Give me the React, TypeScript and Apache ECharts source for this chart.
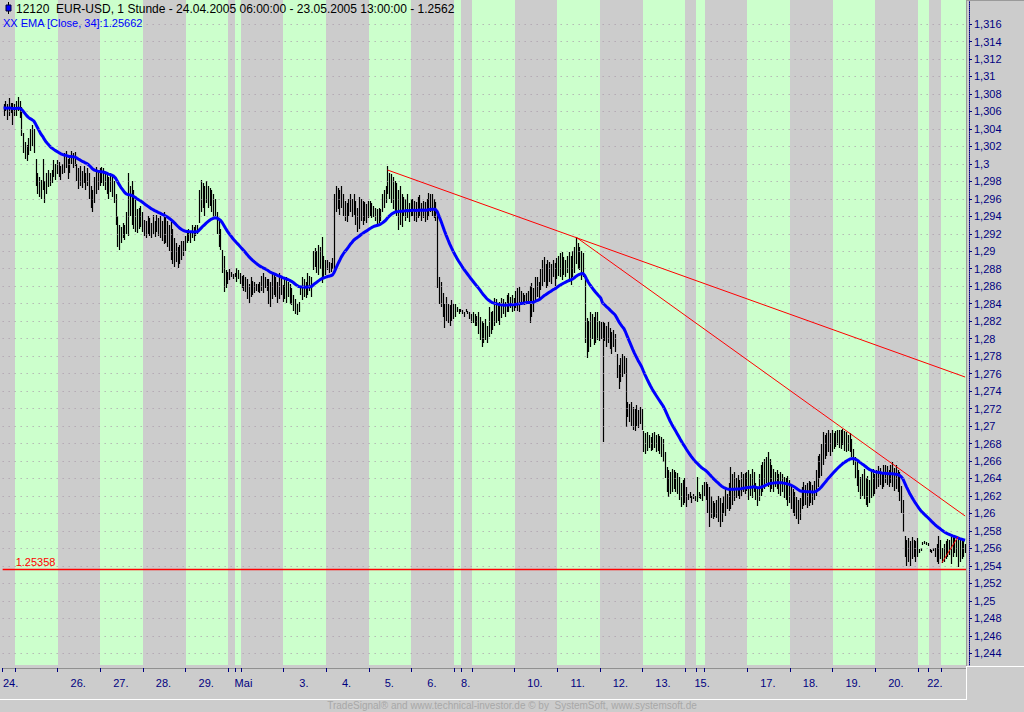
import React, { useEffect, useRef } from "react";
import * as echarts from "echarts";

// ---- data: hourly bars, [low, high] pairs in pips above 1.2400 ----
const D24 = [655,668, 660,672, 650,668, 655,675, 658,670, 645,670, 655,668];
const D25 = [655,672, 660,676, 652,672, 632,665, 612,635, 605,625, 603,622, 610,630, 615,640, 620,644, 612,640, 575,605, 565,590, 562,585, 560,582, 570,605, 555,580, 565,590, 573,593, 575,590, 578,593, 585,604, 581,600, 588,604];
const D26 = [585,602, 581,598, 588,600, 590,612, 595,615, 583,605, 590,610, 600,615, 595,612, 598,614, 580,600, 571,595, 575,598, 572,592, 578,598, 570,590, 575,595, 560,590, 550,575, 545,570, 555,585, 565,596, 570,592, 575,595];
const D27 = [578,596, 575,595, 570,590, 565,588, 560,585, 568,590, 562,585, 555,580, 530,565, 505,540, 502,530, 510,528, 515,532, 513,530, 520,545, 518,590, 540,575, 530,580, 525,570, 522,560, 521,548, 525,550, 528,552, 522,545];
const D28 = [518,536, 515,535, 520,540, 517,538, 515,532, 520,541, 516,535, 522,541, 518,538, 515,540, 512,535, 508,545, 510,540, 505,535, 500,530, 490,533, 485,525, 482,515, 488,510, 481,505, 485,507, 490,512, 495,512, 500,518];
const D29 = [510,522, 512,525, 510,523, 515,530, 512,528, 518,530, 520,530, 532,570, 545,582, 550,578, 540,575, 555,580, 549,575, 552,572, 545,570, 538,566, 540,560, 520,545, 505,535, 501,525, 475,501, 453,495, 458,479, 462,476];
const D30 = [467,480, 470,476, 468,474, 470,475];
const D01 = [465,481, 468,478, 462,475];
const D02 = [458,472, 455,473, 453,470, 445,468, 441,462, 448,470, 450,466, 452,465, 455,463, 453,462, 452,465, 455,472, 452,475, 458,470, 455,468, 440,468, 436,465, 445,476, 450,474, 448,470, 441,465, 445,475, 450,470, 442,461];
const D03 = [445,468, 441,470, 448,465, 440,462, 438,458, 432,450, 428,445, 427,440, 430,442, 450,460, 444,470, 448,468, 446,465, 450,475, 455,472, 448,470, 479,500, 482,504, 475,500, 473,507, 480,505, 464,516, 470,495, 473,490];
const D04 = [478,490, 475,488, 476,487, 480,492, 479,566, 545,575, 548,572, 541,570, 550,575, 540,565, 535,558, 533,555, 540,560, 545,566, 539,560, 542,565, 530,558, 522,550, 525,562, 535,560, 530,558, 535,556, 532,554, 538,558];
const D05 = [540,558, 538,555, 539,552, 535,550, 530,548, 532,550, 535,548, 545,565, 550,570, 555,575, 565,597, 560,590, 555,588, 548,585, 544,580, 540,578, 524,570, 530,575, 528,566, 540,562, 535,560, 538,566, 533,555, 540,560];
const D06 = [540,560, 535,558, 533,556, 538,562, 540,564, 535,555, 538,558, 533,556, 536,560, 540,567, 545,566, 540,565, 538,560, 535,556, 458,545, 440,471, 436,465, 425,452, 412,440, 420,448, 418,440, 414,438, 420,444, 422,440];
const D07 = [425,440, 430,436, 428,434, 430,434];
const D08 = [428,433, 425,430, 430,434, 428,432, 422,430, 418,428];
const D09 = [418,430, 414,428, 415,426, 405,430, 398,425, 391,420, 395,418, 398,422, 395,415, 402,436, 405,430, 410,432, 414,447, 418,445, 420,440, 416,442, 424,447, 428,445, 425,442, 430,450, 431,452, 435,448, 430,450, 432,446];
const D10 = [435,455, 432,458, 430,459, 438,455, 440,452, 439,450, 442,452, 440,455, 418,460, 425,464, 430,458, 444,470, 448,471, 445,465, 456,480, 460,490, 465,493, 458,485, 460,490, 465,488, 462,485, 470,490, 460,487, 468,492];
const D11 = [472,495, 470,498, 467,499, 473,493, 470,490, 475,495, 465,499, 461,495, 470,500, 475,505, 485,516, 480,510, 478,505, 467,500, 470,498, 395,470, 378,424, 385,420, 390,431, 400,428, 393,425, 395,430, 398,430, 397,420];
const D12 = [400,419, 282,419, 397,418, 390,415, 395,419, 388,412, 382,408, 390,410, 385,405, 355,382, 342,370, 350,378, 356,382, 360,380, 299,378, 310,328, 305,325, 300,328, 296,322, 294,320, 300,324, 298,318, 302,322, 296,320];
const D13 = [270,294, 268,292, 272,293, 275,290, 271,288, 273,292, 275,293, 270,290, 272,291, 268,289, 265,287, 259,285, 240,270, 225,253, 219,250, 222,248, 225,251, 228,250, 225,248, 222,246, 215,242, 207,235, 210,238, 212,240];
const D14 = [207,230, 215,222, 218,225, 212,220, 216,222, 214,220];
const D15 = [213,242, 218,225, 216,222, 214,232, 220,236];
const D16 = [215,236, 200,234, 185,230, 195,220, 194,214, 196,212, 195,215, 190,220, 185,218, 190,212, 200,220, 197,228, 205,222, 203,235, 205,253, 210,245, 214,248, 218,240, 220,244, 216,238, 220,248, 225,245, 222,246, 226,248];
const D17 = [215,250, 220,245, 218,251, 225,248, 215,235, 209,228, 214,245, 220,255, 225,259, 228,262, 235,265, 230,270, 225,262, 228,255, 225,251, 230,248, 228,250, 222,245, 220,247, 225,245, 218,242, 215,240, 209,243, 212,238];
const D18 = [205,231, 200,228, 197,225, 194,219, 188,215, 192,218, 205,230, 208,236, 210,232, 206,235, 209,237, 212,236, 210,232, 215,237, 220,250, 230,266, 240,268, 243,280, 255,293, 262,290, 266,292, 270,296, 266,292, 270,295];
const D19 = [274,292, 276,294, 278,296, 275,295, 274,296, 278,297, 272,294, 270,293, 272,290, 270,292, 265,285, 256,274, 240,265, 231,259, 225,250, 217,242, 220,245, 217,251, 210,240, 207,243, 212,238, 218,250, 220,251, 222,245];
const D20 = [228,250, 230,254, 232,252, 228,248, 230,255, 235,256, 232,254, 230,250, 235,255, 230,259, 226,252, 228,256, 225,250, 214,247, 200,231, 179,215, 150,174, 140,170, 145,172, 140,168, 148,173, 150,170, 145,168, 150,172];
const D21 = [155,159, 157,160, 164,167, 165,168, 164,167, 163,166];
const D22 = [156,159, 155,158, 157,160, 150,160, 145,165, 142,174, 148,170];
const D23 = [143,160, 145,165, 148,168, 150,171, 152,170, 142,173, 150,175, 155,173, 150,170, 139,173, 145,172, 148,171, 150,170, 155,165];

const DAY_BARS = [D24, D25, D26, D27, D28, D29, D30, D01, D02, D03, D04, D05, D06, D07, D08, D09, D10, D11, D12, D13, D14, D15, D16, D17, D18, D19, D20, D21, D22, D23];
const DAY_KEYS = ["24.04", "25.04", "26.04", "27.04", "28.04", "29.04", "30.04", "01.05", "02.05", "03.05", "04.05", "05.05", "06.05", "07.05", "08.05", "09.05", "10.05", "11.05", "12.05", "13.05", "14.05", "15.05", "16.05", "17.05", "18.05", "19.05", "20.05", "21.05", "22.05", "23.05"];
const DAY_LABELS = ["24.", "", "26.", "27.", "28.", "29.", "", "Mai", "", "3.", "4.", "5.", "6.", "", "8.", "", "10.", "11.", "12.", "13.", "", "15.", "", "17.", "18.", "19.", "20.", "", "22.", ""];
const TICK_VALUES = [1.244, 1.246, 1.248, 1.25, 1.252, 1.254, 1.256, 1.258, 1.26, 1.262, 1.264, 1.266, 1.268, 1.27, 1.272, 1.274, 1.276, 1.278, 1.28, 1.282, 1.284, 1.286, 1.288, 1.29, 1.292, 1.294, 1.296, 1.298, 1.3, 1.302, 1.304, 1.306, 1.308, 1.31, 1.312, 1.314, 1.316];
const EMA_START = 1.3064;
const EMA_PERIOD = 34;
// trend lines: [startBar, startValue, endBar, endValue]
const TREND_LINES = [
  [216, 1.2993, 541, 1.27561],
  [322, 1.29163, 541, 1.25971],
  [528, 1.25437, 537, 1.25733],
];
const SUPPORT_LEVEL = 1.25358;

// ---- layout / style ----
const LABEL_OFFSET: Record<string, number> = { "24.": 4, Mai: 4, "8.": 2, "15.": 3, "22.": 3 };
const GREY = "#cccccc";
const GREEN = "#ccffcc";
const NAVY = "#000080";
const FONT = '"Liberation Sans", Arial, sans-serif';

const BASE = 1.24;
const PIP = 0.0001;

function buildData() {
  const cats: string[] = [];
  const bars: number[][] = [];
  const bands: number[][] = [];
  const tickSet = new Set<number>();
  const labelMap = new Map<number, string>();
  DAY_BARS.forEach((arr, d) => {
    const start = cats.length;
    const n = arr.length / 2;
    tickSet.add(start);
    bands.push([start, n, d % 2]);
    const lab = DAY_LABELS[d];
    if (lab) {
      const off = LABEL_OFFSET[lab] !== undefined ? LABEL_OFFSET[lab] : Math.floor(n / 2) - 1;
      labelMap.set(start + off, lab);
    }
    for (let k = 0; k < n; k++) {
      const i = cats.length;
      cats.push(`${DAY_KEYS[d]} ${k}`);
      bars.push([i, BASE + arr[2 * k] * PIP, BASE + arr[2 * k + 1] * PIP]);
    }
  });
  const alpha = 2 / (EMA_PERIOD + 1);
  let e = EMA_START;
  const ema = bars.map((b) => {
    const close = (b[1] + b[2]) / 2;
    e = e + alpha * (close - e);
    return +e.toFixed(5);
  });
  return { cats, bars, bands, tickSet, labelMap, ema };
}

function fmtY(v: number) {
  let s = v.toFixed(3).replace(/0+$/, "").replace(/\.$/, "");
  return s.replace(".", ",");
}

export default function App() {
  const ref = useRef<HTMLDivElement>(null);
  useEffect(() => {
    if (!ref.current) return;
    const chart = echarts.init(ref.current, null, { renderer: "svg" });
    const { cats, bars, bands, tickSet, labelMap, ema } = buildData();

    const trendData: any[] = TREND_LINES.map((t) => [
      { coord: [cats[t[0]], t[1]] },
      { coord: [cats[t[2]], t[3]] },
    ]);
    trendData.push({
      yAxis: SUPPORT_LEVEL,
      lineStyle: { width: 1.3 },
      label: {
        show: true,
        position: "insideStartTop",
        formatter: String(SUPPORT_LEVEL),
        color: "#ff0000",
        fontSize: 11,
        fontFamily: FONT,
        distance: [13, 2],
      },
    });

    const option: any = {
      animation: false,
      backgroundColor: GREY,
      grid: { left: 0, right: 58, top: 0, bottom: 47, containLabel: false },
      xAxis: {
        type: "category",
        data: cats,
        boundaryGap: true,
        offset: 3,
        axisLine: { show: true, lineStyle: { color: "#909090", width: 1 } },
        axisTick: {
          show: true,
          length: 4,
          interval: (i: number) => tickSet.has(i),
          lineStyle: { color: NAVY, width: 1 },
        },
        axisLabel: {
          show: true,
          interval: (i: number) => labelMap.has(i),
          formatter: (_v: string, i: number) => labelMap.get(i) || "",
          color: NAVY,
          fontSize: 11,
          fontFamily: FONT,
          margin: 9,
        },
        splitLine: { show: false },
      },
      yAxis: {
        type: "value",
        position: "right",
        min: 1.24266,
        max: 1.31875,
        offset: 3,
        axisLine: { show: true, onZero: false, lineStyle: { color: NAVY, type: "dotted", width: 1 } },
        axisTick: { show: true, length: 3, customValues: TICK_VALUES, lineStyle: { color: NAVY } },
        axisLabel: {
          show: true,
          customValues: TICK_VALUES,
          formatter: fmtY,
          color: NAVY,
          fontSize: 11,
          fontFamily: FONT,
          margin: 5,
        },
        splitLine: { show: false },
      },
      series: [
        {
          type: "custom",
          name: "bands",
          z: 0,
          silent: true,
          clip: false,
          data: bands,
          encode: { x: 0, y: 1 },
          renderItem: (params: any, api: any) => {
            const start = api.value(0);
            const n = api.value(1);
            const green = api.value(2);
            const c = api.coord([start, 1.28]);
            const bw = api.size([1, 0])[0];
            const cs = params.coordSys;
            const x0 = Math.round(c[0] - bw / 2);
            const x1 = Math.round(c[0] - bw / 2 + n * bw);
            return {
              type: "rect",
              shape: { x: x0, y: cs.y, width: x1 - x0, height: cs.height },
              style: { fill: green ? GREEN : GREY },
            };
          },
        },
        {
          type: "line",
          name: "grid",
          z: 1,
          silent: true,
          data: [],
          markLine: {
            silent: true,
            precision: 5,
            symbol: ["none", "none"],
            label: { show: false },
            lineStyle: { color: "#a898a8", type: [1, 5], width: 1 },
            data: TICK_VALUES.map((v) => ({ yAxis: v })),
          },
        },
        {
          type: "custom",
          name: "bars",
          z: 2,
          silent: true,
          data: bars,
          encode: { x: 0, y: [1, 2] },
          renderItem: (_params: any, api: any) => {
            const i = api.value(0);
            const lo = api.coord([i, api.value(1)]);
            const hi = api.coord([i, api.value(2)]);
            const x = Math.round(lo[0]) + 0.5;
            return {
              type: "line",
              shape: { x1: x, y1: Math.round(lo[1]), x2: x, y2: Math.min(Math.round(hi[1]), Math.round(lo[1]) - 1) },
              style: { stroke: "#000000", lineWidth: 1.2 },
            };
          },
        },
        {
          type: "line",
          name: "EMA",
          z: 3,
          silent: true,
          data: ema,
          showSymbol: false,
          symbol: "none",
          lineStyle: { color: "#0000ff", width: 3 },
        },
        {
          type: "line",
          name: "lines",
          z: 4,
          silent: true,
          data: [],
          markLine: {
            silent: true,
            precision: 5,
            symbol: ["none", "none"],
            label: { show: false },
            lineStyle: { color: "#ff0000", type: "solid", width: 1 },
            data: trendData,
          },
        },
      ],
      graphic: [
        { type: "line", z: 100, shape: { x1: 8.5, y1: 2, x2: 8.5, y2: 14 }, style: { stroke: "#000000", lineWidth: 1 } },
        { type: "rect", z: 101, shape: { x: 6, y: 5, width: 5, height: 6 }, style: { fill: "#0000ff", stroke: "#000030", lineWidth: 1 } },
        {
          type: "text",
          z: 100,
          x: 16,
          y: 3,
          style: {
            text: "12120  EUR-USD, 1 Stunde - 24.04.2005 06:00:00 - 23.05.2005 13:00:00 - 1.2562",
            fill: "#000000",
            font: `12px ${FONT}`,
            verticalAlign: "top",
          },
        },
        {
          type: "text",
          z: 100,
          x: 3,
          y: 17,
          style: { text: "XX EMA [Close, 34]:1.25662", fill: "#0000ff", font: `11px ${FONT}`, verticalAlign: "top" },
        },
        {
          type: "text",
          z: 100,
          x: 512,
          y: 700,
          style: {
            text: "TradeSignal® and www.technical-investor.de © by  SystemSoft, www.systemsoft.de",
            fill: "#a8a8a8",
            font: `10px ${FONT}`,
            align: "center",
            verticalAlign: "top",
          },
        },
        { type: "line", z: 100, shape: { x1: 966.5, y1: 0, x2: 966.5, y2: 666 }, style: { stroke: "#9a9a9a", lineWidth: 1 } },
        { type: "line", z: 100, shape: { x1: 966, y1: 0.5, x2: 1024, y2: 0.5 }, style: { stroke: "#9a9a9a", lineWidth: 1 } },
        { type: "line", z: 100, shape: { x1: 967, y1: 666.5, x2: 1024, y2: 666.5 }, style: { stroke: "#ffffff", lineWidth: 1 } },
        { type: "line", z: 100, shape: { x1: 966.5, y1: 666, x2: 966.5, y2: 699 }, style: { stroke: "#ffffff", lineWidth: 1 } },
        { type: "line", z: 100, shape: { x1: 0, y1: 699.5, x2: 967, y2: 699.5 }, style: { stroke: "#ffffff", lineWidth: 1 } },
      ],
    };
    chart.setOption(option);
    return () => chart.dispose();
  }, []);
  return (
    <div
      ref={ref}
      style={{ position: "fixed", left: 0, top: 0, width: 1024, height: 712 }}
    />
  );
}
